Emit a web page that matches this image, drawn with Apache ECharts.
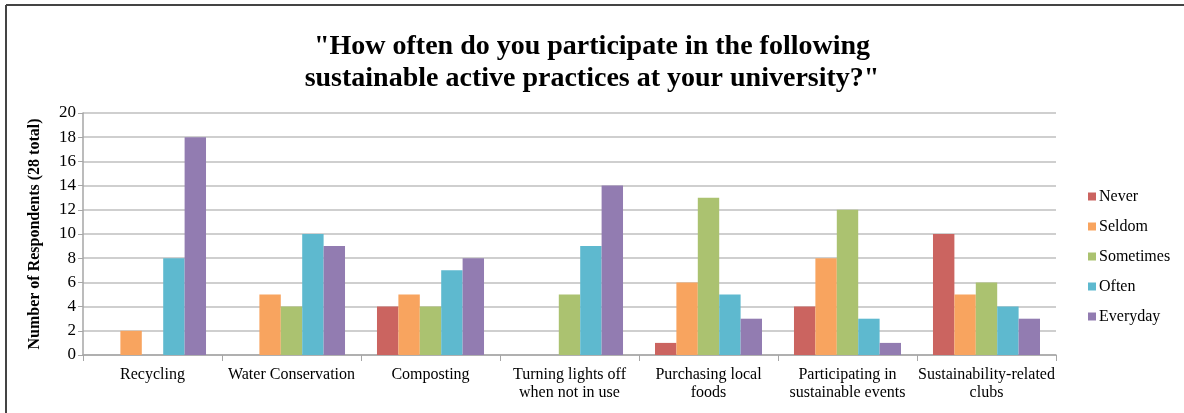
<!DOCTYPE html>
<html>
<head>
<meta charset="utf-8">
<script src="https://cdn.jsdelivr.net/npm/echarts@6/dist/echarts.min.js"></script>
<style>
  html, body { margin: 0; padding: 0; background: #fff; }
  #chart { width: 1184px; height: 413px; }
</style>
</head>
<body>
<div id="chart"></div>
<script>
// Survey categories and responses per frequency
const categories = [
  'Recycling',
  'Water Conservation',
  'Composting',
  'Turning lights off\nwhen not in use',
  'Purchasing local\nfoods',
  'Participating in\nsustainable events',
  'Sustainability-related\nclubs'
];
const seriesNames = ['Never', 'Seldom', 'Sometimes', 'Often', 'Everyday'];
const never     = [0, 0, 4, 0, 1, 4, 10];
const seldom    = [2, 5, 5, 0, 6, 8, 5];
const sometimes = [0, 4, 4, 5, 13, 12, 6];
const often     = [8, 10, 7, 9, 5, 3, 4];
const everyday  = [18, 9, 8, 14, 3, 1, 3];
const yTicks = [0, 2, 4, 6, 8, 10, 12, 14, 16, 18, 20];

const colors = ['#CB6460', '#F8A45F', '#ABC270', '#5EB9CF', '#927CB1'];
const values = [never, seldom, sometimes, often, everyday];
const serif = '"Liberation Serif", "Times New Roman", serif';

const chart = echarts.init(document.getElementById('chart'));
chart.setOption({
  animation: false,
  backgroundColor: '#fff',
  title: {
    text: '"How often do you participate in the following\nsustainable active practices at your university?"',
    left: 'center',
    top: 26,
    textStyle: {
      fontFamily: serif,
      fontWeight: 'bold',
      fontSize: 28,
      lineHeight: 32,
      color: '#000'
    }
  },
  legend: {
    orient: 'vertical',
    left: 1083,
    top: 183,
    itemWidth: 8,
    itemHeight: 8,
    itemGap: 13,
    icon: 'rect',
    textStyle: { fontFamily: serif, fontSize: 16, lineHeight: 17, color: '#000', padding: [0, 0, 0, -2] },
    data: seriesNames
  },
  grid: { left: 83, right: 128, top: 113, bottom: 58 },
  xAxis: {
    type: 'category',
    data: categories,
    axisLine: { lineStyle: { color: '#A6A6A6', width: 1.5 } },
    axisTick: { show: true, length: 6, lineStyle: { color: '#A6A6A6' } },
    axisLabel: { fontFamily: serif, fontSize: 16, lineHeight: 18, color: '#000', margin: 11, interval: 0 }
  },
  yAxis: {
    type: 'value',
    min: 0,
    max: yTicks[yTicks.length - 1],
    interval: yTicks[1] - yTicks[0],
    name: 'Number of Respondents (28 total)',
    nameLocation: 'middle',
    nameGap: 40,
    nameTextStyle: { fontFamily: serif, fontWeight: 'bold', fontSize: 16, color: '#000' },
    axisLine: { show: true, lineStyle: { color: '#A6A6A6', width: 1.5 } },
    axisTick: { show: true, length: 5, lineStyle: { color: '#A6A6A6' } },
    axisLabel: { fontFamily: serif, fontSize: 17, color: '#000', margin: 7 },
    splitLine: { lineStyle: { color: '#BFBFBF', width: 1.5 } }
  },
  series: seriesNames.map((name, i) => ({
    name,
    type: 'bar',
    data: values[i],
    barGap: '0%',
    barCategoryGap: '23%',
    itemStyle: { color: colors[i] }
  })),
  graphic: [
    { type: 'line', shape: { x1: 6, y1: 5, x2: 1184, y2: 5 }, style: { stroke: '#444', lineWidth: 2 } },
    { type: 'line', shape: { x1: 6, y1: 5, x2: 6, y2: 413 }, style: { stroke: '#444', lineWidth: 2 } }
  ]
});
</script>
</body>
</html>
